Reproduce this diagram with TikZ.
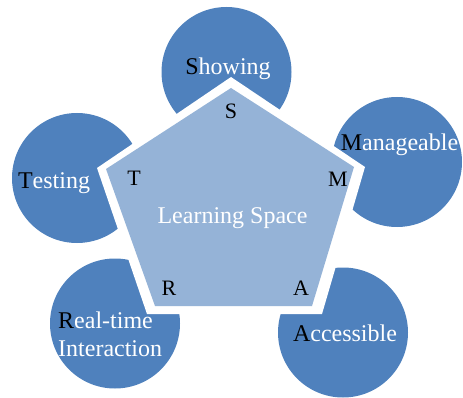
\documentclass[tikz,border=0pt]{standalone}
\usepackage{fontspec}
\setmainfont{Liberation Serif}
\definecolor{dblue}{RGB}{79,129,189}
\definecolor{lblue}{RGB}{149,179,215}
\newcommand{\first}[1]{{\color{black}#1}}

\begin{document}
\begin{tikzpicture} [x = 1pt, y = -1pt, every node/.style = {inner sep = 0pt},
  bubble/.style = {circle, fill = dblue, minimum size = 130pt},
  word/.style = {anchor = base, text = white, font = \fontsize{24}{28}\selectfont},
  letter/.style = {anchor = base, font = \fontsize{22}{26}\selectfont}]
\useasboundingbox (0,0) rectangle (463,398);
\node(c1) at (226.5,72) [bubble] {};
\node(c2) at (397,162) [bubble] {};
\node(c3) at (343,332.5) [bubble] {};
\node(c4) at (115,323.5) [bubble] {};
\node(c5) at (77,178) [bubble] {};
\fill [white] (231,77) -- (365,167) -- (322,314) -- (147,314) -- (97,168) -- cycle;
\fill [lblue] (231,88) -- (354,167) -- (312,306) -- (155,306) -- (106,169) -- cycle;
\node(w1) at (228,75) [word] {\first{S}howing};
\node(w2) at (399.5,151) [word] {\first{M}anageable};
\node(w3) at (345,341) [word] {\first{A}ccessible};
\node(w4) at (58,356) [word, anchor = base west, align = left] {\first{R}eal-time\\Interaction};
\node(w5) at (54,189) [word] {\first{T}esting};
\node(ls) at (232.5,224) [word] {Learning Space};
\node(l1) at (231,119) [letter] {S};
\node(l2) at (338,187) [letter] {M};
\node(l3) at (301,295) [letter] {A};
\node(l4) at (169,295) [letter] {R};
\node(l5) at (134,186) [letter] {T};
\end{tikzpicture}
\end{document}
